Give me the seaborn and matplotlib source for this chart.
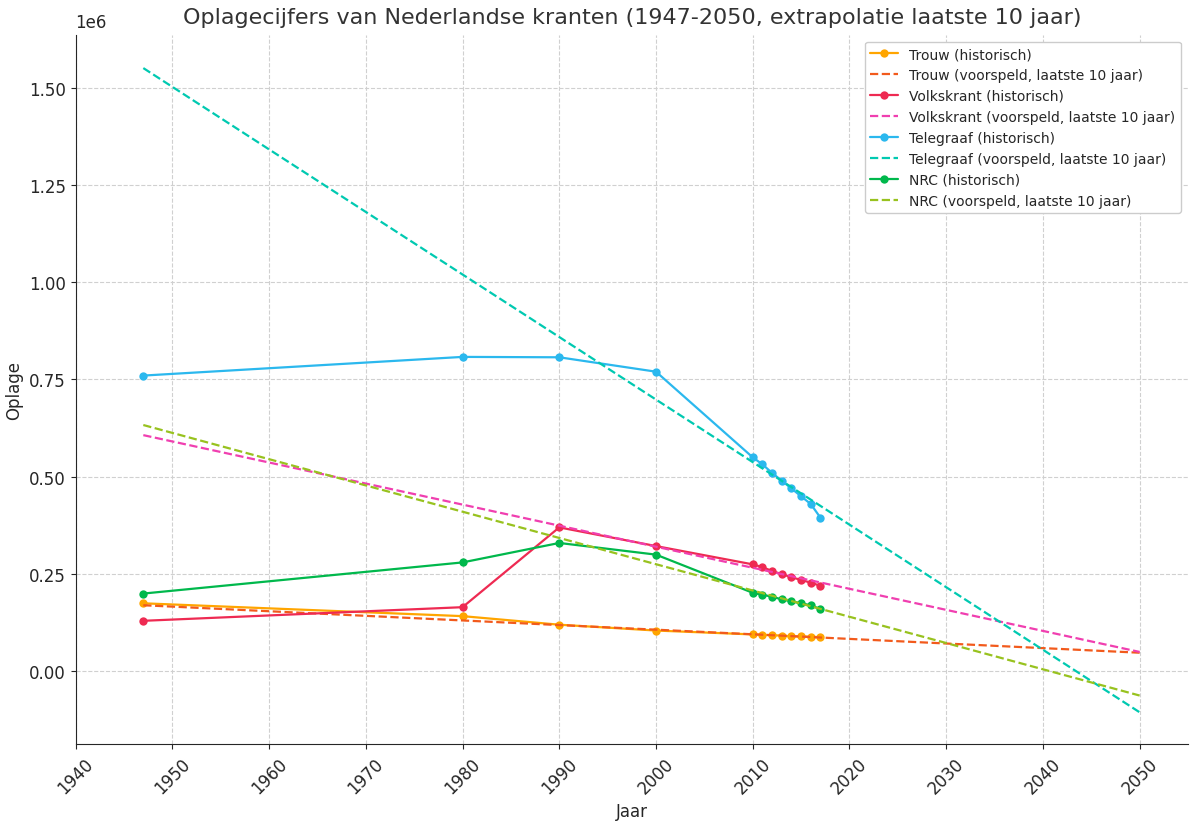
import numpy as np
import pandas as pd
import seaborn as sns
import matplotlib.pyplot as plt

years = [1947, 1980, 1990, 2000, 2010, 2011, 2012, 2013, 2014, 2015, 2016, 2017]
trouw = [175000, 142000, 120000, 105000, 95000, 94000, 93000, 92000, 90000, 90000, 89000, 88000]
volkskrant = [130000, 165000, 370000, 322000, 275000, 268000, 258000, 250000, 242000, 235000, 228000, 220000]
telegraaf = [760000, 808000, 807000, 770000, 550000, 532000, 510000, 490000, 470000, 450000, 430000, 395000]
nrc = [200000, 280000, 330000, 300000, 202000, 197000, 192000, 185000, 180000, 175000, 170000, 160000]

forecast_years = [1947, 2050]
trouw_fc = [170000, 48000]
volkskrant_fc = [607000, 50000]
telegraaf_fc = [1550000, -105000]
nrc_fc = [633000, -62000]

papers = ["Trouw", "Volkskrant", "Telegraaf", "NRC"]
hist = [trouw, volkskrant, telegraaf, nrc]
fcs = [trouw_fc, volkskrant_fc, telegraaf_fc, nrc_fc]
hist_colors = ["#FFA500", "#EE2A52", "#2BB8EE", "#00B84C"]
fc_colors = ["#F25A1C", "#F03FB0", "#00C9B1", "#98C21F"]

sns.set_style("ticks")
fig, ax = plt.subplots(figsize=(12, 8.28), dpi=100)

for name, h, f, hc, fc in zip(papers, hist, fcs, hist_colors, fc_colors):
    sns.lineplot(x=years, y=h, ax=ax, color=hc, marker="o", markersize=6,
                 markeredgewidth=0, linewidth=1.6, label=f"{name} (historisch)")
    sns.lineplot(x=forecast_years, y=f, ax=ax, color=fc, linestyle="--",
                 linewidth=1.6, label=f"{name} (voorspeld, laatste 10 jaar)")

ax.set_xlim(1940, 2055)
ax.set_ylim(-187000, 1636000)
ax.set_xticks(range(1940, 2051, 10))
ax.set_yticks([0, 250000, 500000, 750000, 1000000, 1250000, 1500000])
ax.set_yticklabels(["0.00", "0.25", "0.50", "0.75", "1.00", "1.25", "1.50"])
ax.text(0, 1.005, "1e6", transform=ax.transAxes, fontsize=12, va="bottom")
plt.setp(ax.get_xticklabels(), rotation=45)
ax.tick_params(labelsize=12)
ax.grid(True, linestyle="--", color="#d0d0d0", linewidth=0.8)
sns.despine(ax=ax)
ax.set_xlabel("Jaar", fontsize=12)
ax.set_ylabel("Oplage", fontsize=12)
ax.set_title("Oplagecijfers van Nederlandse kranten (1947-2050, extrapolatie laatste 10 jaar)",
             fontsize=16, color="#333333", pad=8)
ax.legend(loc="upper right", fontsize=10, framealpha=1)

fig.subplots_adjust(left=0.063, right=0.99, top=0.957, bottom=0.1)
fig.savefig("out.png", dpi=100)
